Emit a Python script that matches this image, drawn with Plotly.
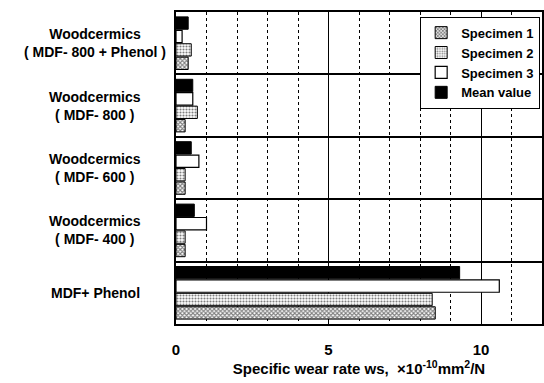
import plotly.graph_objects as go

categories = ["MDF+Phenol", "MDF-400", "MDF-600", "MDF-800", "MDF-800+Phenol"]
category_labels = [
    "MDF+ Phenol",
    "Woodcermics<br>( MDF- 400 )",
    "Woodcermics<br>( MDF- 600 )",
    "Woodcermics<br>( MDF- 800 )",
    "Woodcermics<br>( MDF- 800 + Phenol )",
]
specimen1 = [8.5, 0.3, 0.3, 0.3, 0.4]
specimen2 = [8.4, 0.3, 0.3, 0.7, 0.5]
specimen3 = [10.6, 1.0, 0.75, 0.55, 0.2]
mean_value = [9.3, 0.6, 0.5, 0.55, 0.4]
x_ticks = [0, 5, 10]

FONT = "Liberation Sans, Arial, sans-serif"

fig = go.Figure()
fig.add_trace(go.Bar(
    y=categories, x=specimen1, orientation="h", name="Specimen 1",
    marker=dict(color="white", line=dict(color="black", width=1),
                pattern=dict(shape="x", fgcolor="black", bgcolor="white", size=3, solidity=0.6)),
))
fig.add_trace(go.Bar(
    y=categories, x=specimen2, orientation="h", name="Specimen 2",
    marker=dict(color="white", line=dict(color="black", width=1),
                pattern=dict(shape=".", fgcolor="black", bgcolor="white", size=3, solidity=0.4)),
))
fig.add_trace(go.Bar(
    y=categories, x=specimen3, orientation="h", name="Specimen 3",
    marker=dict(color="white", line=dict(color="black", width=1.2)),
))
fig.add_trace(go.Bar(
    y=categories, x=mean_value, orientation="h", name="Mean value",
    marker=dict(color="black", line=dict(color="black", width=1)),
))

for cat, lab in zip(categories, category_labels):
    fig.add_annotation(
        x=-0.22, xref="paper", y=cat, yref="y", text=lab, showarrow=False,
        xanchor="center", yanchor="middle", align="center",
        font=dict(family=FONT, size=14, color="black", weight="bold"),
    )

fig.update_layout(
    width=544, height=383,
    margin=dict(l=176, r=0, t=12, b=59),
    paper_bgcolor="white", plot_bgcolor="white",
    barmode="group", bargap=0.14, bargroupgap=0.08,
    font=dict(family=FONT, color="black", weight="bold"),
    showlegend=True,
    legend=dict(
        x=0.995, y=0.985, xanchor="right", yanchor="top",
        bgcolor="white", bordercolor="black", borderwidth=1,
        traceorder="normal",
        font=dict(family=FONT, size=13, color="black", weight="bold"),
        itemwidth=30,
    ),
    xaxis=dict(
        range=[0, 12], tickvals=x_ticks, ticktext=[str(v) for v in x_ticks],
        showgrid=True, gridcolor="black", gridwidth=1.2,
        minor=dict(dtick=1, showgrid=True, gridcolor="black", griddash="dot", gridwidth=1),
        showline=True, linecolor="black", linewidth=1.5, mirror=True,
        zeroline=False, ticks="", ticklabelstandoff=11,
        tickfont=dict(family=FONT, size=15, color="black", weight="bold"),
        title=dict(text="Specific wear rate ws,  ×10<sup>-10</sup>mm<sup>2</sup>/N",
                   font=dict(family=FONT, size=15, color="black", weight="bold"), standoff=0),
    ),
    yaxis=dict(
        categoryorder="array", categoryarray=categories,
        showticklabels=False, tickson="boundaries",
        showgrid=True, gridcolor="black", gridwidth=1.5,
        showline=True, linecolor="black", linewidth=2, mirror=True,
        ticks="",
    ),
)

fig.write_html("out.html")
